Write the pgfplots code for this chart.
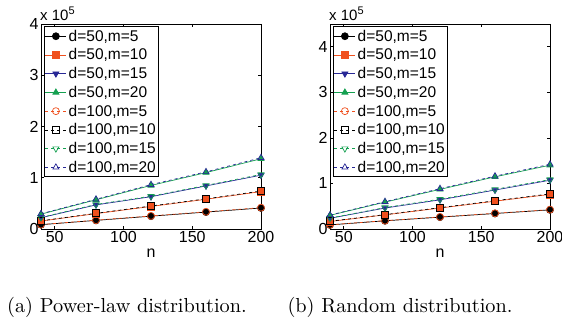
\documentclass[border=0pt]{standalone}
\usepackage{fontspec}
\usepackage{pgfplots}
\pgfplotsset{compat=1.18}
\newfontfamily\arial{Liberation Sans}
\definecolor{cor}{RGB}{240,80,30}
\definecolor{cbl}{RGB}{40,40,150}
\definecolor{cgr}{RGB}{20,160,80}
\pgfplotsset{
  myax/.style={
    scale only axis, width=220pt, height=205pt,
    xmin=40, xmax=200, ymin=0,
    xtick={50,100,150,200},
    scaled y ticks=false,
    ytick={0,100000,200000,300000,400000},
    yticklabels={0,1,2,3,4},
    tick align=inside, major tick length=3pt,
    axis line style={line width=0.8pt},
    every tick/.style={line width=0.6pt, black},
    /pgf/number format/assume math mode=true,
    tick label style={font=\arial\fontsize{16}{16}\selectfont},
    label style={font=\arial\fontsize{16}{16}\selectfont},
    xlabel={n},
    xlabel style={yshift=1pt},
    yticklabel style={xshift=1pt},
    xticklabel style={yshift=1pt},
    legend style={at={(0.012,0.988)}, anchor=north west,
      font=\arial\fontsize{15.5}{16}\selectfont,
      inner sep=1pt, row sep=2pt, draw=black, line width=0.8pt,
      cells={anchor=west}},
    legend image code/.code={\draw[mark repeat=2,mark phase=2] plot coordinates {(0pt,0pt) (10.5pt,0pt) (21pt,0pt)};},
    every axis plot/.append style={line width=0.7pt, mark size=3.5pt},
  },
  s1/.style={black, solid, mark=*, mark options={solid, fill=black}},
  s2/.style={cor, solid, mark=square*, mark options={solid, fill=cor}},
  s3/.style={cbl, solid, mark=triangle*, mark options={solid, fill=cbl, rotate=180}},
  s4/.style={cgr, solid, mark=triangle*, mark options={solid, fill=cgr}},
  s5/.style={cor, dashed, mark=o, mark options={solid}},
  s6/.style={black, dashed, mark=square, mark options={solid}},
  s7/.style={cgr, dashed, mark=triangle, mark options={solid, rotate=180}},
  s8/.style={cbl, dashed, mark=triangle, mark options={solid}},
}
\begin{document}
\begin{tikzpicture}
\useasboundingbox (0pt,0pt) rectangle (562pt,331pt);
\begin{axis}[myax, name=axa, at={(41pt,102pt)}, anchor=south west, ymax=400000]
\addplot[s1] coordinates {(40,8400) (80,16800) (120,25000) (160,33000) (200,41000)};
\addplot[s2] coordinates {(40,15500) (80,30000) (120,44000) (160,58000) (200,73000)};
\addplot[s3] coordinates {(40,22000) (80,47000) (120,63000) (160,84000) (200,105000)};
\addplot[s4] coordinates {(40,29000) (80,57000) (120,85000) (160,110000) (200,137000)};
\addplot[s5] coordinates {(40,8600) (80,17200) (120,25500) (160,33600) (200,41600)};
\addplot[s6] coordinates {(40,15900) (80,30600) (120,44800) (160,58800) (200,74000)};
\addplot[s7] coordinates {(40,22500) (80,48000) (120,64000) (160,85000) (200,106500)};
\addplot[s8] coordinates {(40,29600) (80,58000) (120,86500) (160,111500) (200,139000)};
\legend{d=50{,}m=5, d=50{,}m=10, d=50{,}m=15, d=50{,}m=20, d=100{,}m=5, d=100{,}m=10, d=100{,}m=15, d=100{,}m=20}
\end{axis}
\begin{axis}[myax, name=axb, at={(330pt,102pt)}, anchor=south west, ymax=450000]
\addplot[s1] coordinates {(40,9000) (80,18000) (120,26000) (160,34000) (200,42000)};
\addplot[s2] coordinates {(40,16500) (80,31000) (120,46000) (160,61000) (200,76000)};
\addplot[s3] coordinates {(40,23500) (80,46000) (120,64000) (160,85500) (200,107000)};
\addplot[s4] coordinates {(40,30000) (80,59000) (120,87000) (160,114500) (200,140000)};
\addplot[s5] coordinates {(40,9200) (80,18300) (120,26500) (160,34500) (200,42500)};
\addplot[s6] coordinates {(40,17000) (80,31500) (120,46800) (160,62000) (200,77000)};
\addplot[s7] coordinates {(40,24000) (80,47000) (120,65500) (160,87000) (200,108500)};
\addplot[s8] coordinates {(40,30600) (80,60000) (120,88500) (160,116000) (200,142000)};
\legend{d=50{,}m=5, d=50{,}m=10, d=50{,}m=15, d=50{,}m=20, d=100{,}m=5, d=100{,}m=10, d=100{,}m=15, d=100{,}m=20}
\end{axis}
\node[anchor=base west, inner sep=0pt] at (40pt,310pt) {\arial\fontsize{15}{18}\selectfont x 10\raisebox{6.5pt}{\fontsize{11}{12}\selectfont 5}};
\node[anchor=base west, inner sep=0pt] at (329pt,310pt) {\arial\fontsize{15}{18}\selectfont x 10\raisebox{6.5pt}{\fontsize{11}{12}\selectfont 5}};
\node[anchor=base, scale=2.03, inner sep=0pt] at (127pt,18pt) {(a) Power-law distribution.};
\node[anchor=base, scale=2.03, inner sep=0pt] at (400pt,18pt) {(b) Random distribution.};
\end{tikzpicture}
\end{document}
